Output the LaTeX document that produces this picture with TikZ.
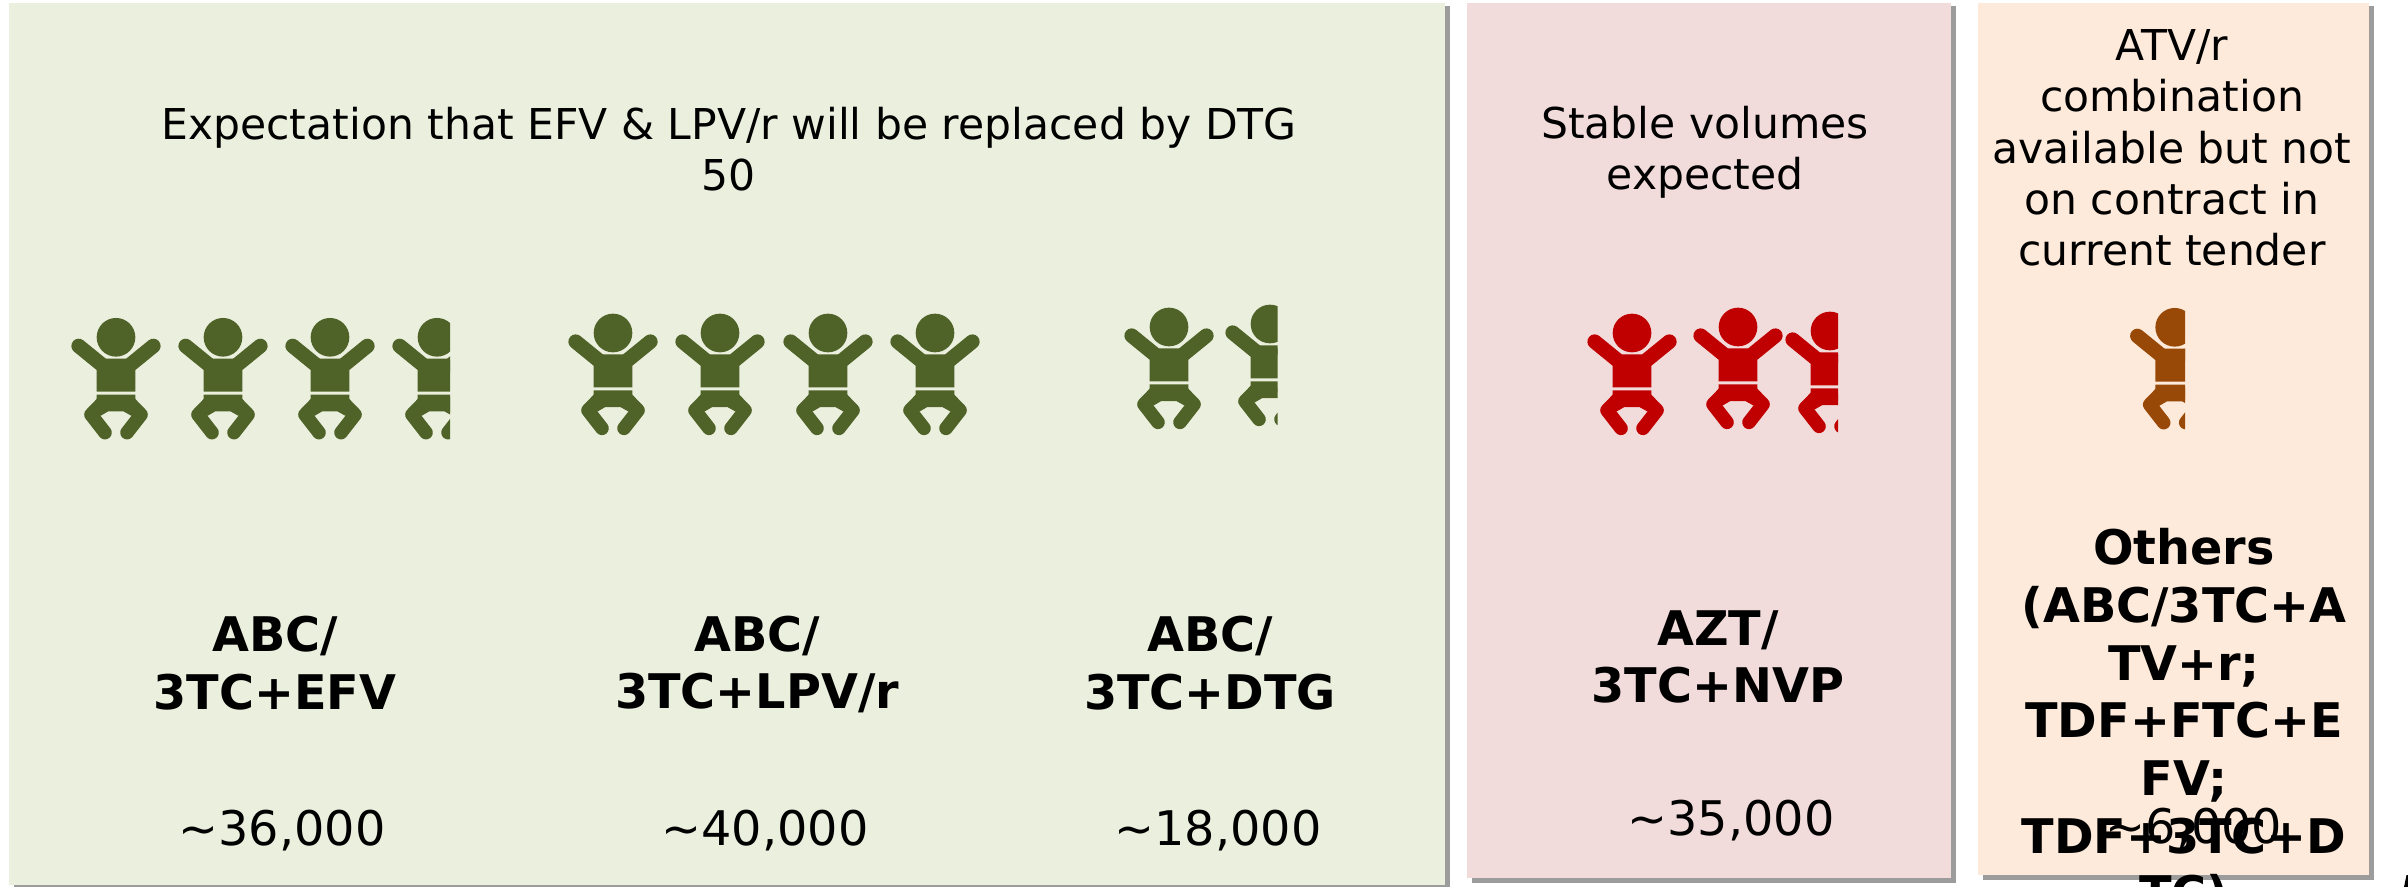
\documentclass[tikz,border=0pt]{standalone}
\usepackage{fontspec}
\setmainfont{DejaVu Sans}
\definecolor{gbg}{HTML}{EBEFDE}
\definecolor{pbg}{HTML}{F2DCDB}
\definecolor{obg}{HTML}{FDEADA}
\definecolor{gfg}{HTML}{4F6228}
\definecolor{rfg}{HTML}{C00000}
\definecolor{ofg}{HTML}{984807}
\definecolor{shd}{HTML}{9C9C9C}
\tikzset{
  toptext/.style={align=center,inner sep=0pt,font=\fontsize{21.25}{25.65}\selectfont},
  drug/.style={align=center,inner sep=0pt,font=\fontsize{23.85}{28.85}\bfseries\selectfont},
  count/.style={inner sep=0pt,font=\fontsize{23.85}{28.85}\selectfont},
}
\newcommand{\panelbox}[5]{%
  \fill[shd] (#1+5,#2+3) rectangle (#3+5,#4+5);
  \fill[#5] (#1,#2) rectangle (#3,#4);
}
% head centre x, y, colour
\newcommand{\baby}[3]{%
  \begin{scope}[shift={(#1,#2)},x=0.16667pt,y=-0.16667pt]
    \fill[#3] (0,0) circle[radius=58];
    \fill[#3] (-36,64) -- (37,64) -- (58,100) -- (58,163) -- (-58,163) -- (-58,100) -- cycle;
    \draw[#3,line width=7.3pt,line cap=round] (-112,26) -- (-42,83);
    \draw[#3,line width=7.3pt,line cap=round] (112,26) -- (42,83);
    \fill[#3] (-58,172) -- (58,172) -- (58,190) -- (47,236) -- (22,222) -- (-23,222) -- (-47,236) -- (-58,190) -- cycle;
    \draw[#3,line width=6.8pt,line cap=round,line join=round] (-42,198) -- (-75,232) -- (-33,286);
    \draw[#3,line width=6.8pt,line cap=round,line join=round] (42,198) -- (75,232) -- (33,286);
  \end{scope}}
\begin{document}
\begin{tikzpicture}[x=0.5pt,y=-0.5pt]
\useasboundingbox (0,0) rectangle (2408,887);
\clip (0,0) rectangle (2408,887);
\fill[white] (0,0) rectangle (2408,887);
\panelbox{9}{3}{1445}{885}{gbg}
\panelbox{1467}{3}{1951}{878}{pbg}
\panelbox{1978}{3}{2369}{875}{obg}
% babies
\begin{scope}
  \clip (60,300) rectangle (450,440);
  \baby{116}{337.3}{gfg}\baby{223}{337.3}{gfg}\baby{330}{337.3}{gfg}\baby{437}{337.3}{gfg}
\end{scope}
\baby{613}{333}{gfg}\baby{720}{333}{gfg}\baby{828}{333}{gfg}\baby{935}{333}{gfg}
\begin{scope}
  \clip (1110,290) rectangle (1277.5,430);
  \baby{1169}{327}{gfg}\baby{1270}{324}{gfg}
\end{scope}
\begin{scope}
  \clip (1580,290) rectangle (1838,436);
  \baby{1632}{333}{rfg}\baby{1738}{327}{rfg}\baby{1830}{331}{rfg}
\end{scope}
\begin{scope}
  \clip (2120,300) rectangle (2185,429);
  \baby{2174.7}{327.3}{ofg}
\end{scope}
% top texts
\node[toptext] (t1) at (729,149.5) {Expectation that EFV \& LPV/r will be replaced by DTG\\50};
\node[toptext] (t2) at (1705,152.5) {Stable volumes\\expected};
\node[toptext] (t3) at (2172,148) {ATV/r\\combination\\available but not\\on contract in\\current tender};
% drug names
\node[drug] (d1) at (275,663) {ABC/\\3TC+EFV};
\node[drug] (d2) at (757,664.5) {ABC/\\3TC+LPV/r};
\node[drug] (d3) at (1210,663) {ABC/\\3TC+DTG};
\node[drug] (d4) at (1718,657) {AZT/\\3TC+NVP};
\node[drug,anchor=north] (d5) at (2184,528) {Others\\(ABC/3TC+A\\TV+r;\\TDF+FTC+E\\FV;\\TDF+3TC+D\\TC)};
% counts
\node[count] (c1) at (282,831) {\textasciitilde36,000};
\node[count] (c2) at (765,831) {\textasciitilde40,000};
\node[count] (c3) at (1218,831) {\textasciitilde18,000};
\node[count] (c4) at (1731,821) {\textasciitilde35,000};
\node[count] (c5) at (2194,829) {\textasciitilde6,000};
% sliver of a glyph at the bottom-right page edge
\fill[black] (2404,887) -- (2406.5,875) -- (2408,875) -- (2408,887) -- cycle;
\end{tikzpicture}
\end{document}
